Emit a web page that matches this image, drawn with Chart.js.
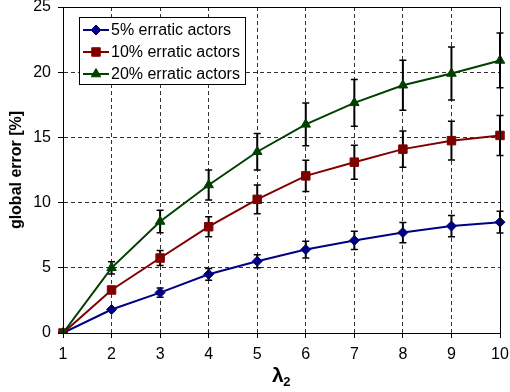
<!DOCTYPE html>
<html>
<head>
<meta charset="utf-8">
<script src="https://cdn.jsdelivr.net/npm/chart.js@4/dist/chart.umd.min.js"></script>
<style>
  html, body { margin: 0; padding: 0; background: #fff; }
  #wrap { width: 510px; height: 392px; }
</style>
</head>
<body>
<div id="wrap"><canvas id="c" width="510" height="392"></canvas></div>
<script>
// lambda_2 values on the x axis
const lambdaValues = ['1', '2', '3', '4', '5', '6', '7', '8', '9', '10'];
const yTicks = [0, 5, 10, 15, 20, 25];

// mean global error [%] per share of erratic actors
const err5 = [0, 1.8, 3.1, 4.5, 5.5, 6.4, 7.1, 7.7, 8.2, 8.5];
const err10 = [0, 3.3, 5.75, 8.15, 10.25, 12.05, 13.1, 14.1, 14.75, 15.15];
const err20 = [0, 5.0, 8.55, 11.35, 13.9, 16.0, 17.65, 19.0, 19.9, 20.9];

// standard deviations (error bar half-lengths)
const sd5 = [0, 0.1, 0.35, 0.45, 0.5, 0.64, 0.7, 0.78, 0.82, 0.83];
const sd10 = [0, 0.25, 0.57, 0.77, 1.1, 1.2, 1.3, 1.39, 1.48, 1.53];
const sd20 = [0, 0.47, 0.86, 1.15, 1.4, 1.64, 1.79, 1.92, 2.03, 2.1];

const seriesLabels = ['5% erratic actors', '10% erratic actors', '20% erratic actors'];

const FONT = '"Liberation Sans", Arial, Helvetica, sans-serif';

function drawMarker(ctx, style, r, x, y, color) {
  ctx.save();
  ctx.fillStyle = color;
  ctx.strokeStyle = color;
  ctx.lineWidth = 1;
  ctx.beginPath();
  if (style === 'rectRot') {
    ctx.moveTo(x, y - r); ctx.lineTo(x + r, y); ctx.lineTo(x, y + r); ctx.lineTo(x - r, y);
  } else if (style === 'rect') {
    const s = r * Math.SQRT1_2;
    ctx.rect(x - s, y - s, 2 * s, 2 * s);
  } else {
    const a = Math.PI * 2 / 3;
    ctx.moveTo(x, y - r);
    ctx.lineTo(x + Math.sin(a) * r, y - Math.cos(a) * r);
    ctx.lineTo(x + Math.sin(2 * a) * r, y - Math.cos(2 * a) * r);
  }
  ctx.closePath();
  ctx.fill();
  ctx.stroke();
  ctx.restore();
}

// vertical error bars with caps, drawn beneath the lines and markers
const errorBars = {
  id: 'errorBars',
  beforeDatasetsDraw(chart) {
    const ctx = chart.ctx;
    const yScale = chart.scales.y;
    ctx.save();
    ctx.strokeStyle = '#000';
    chart.data.datasets.forEach((ds, di) => {
      const meta = chart.getDatasetMeta(di);
      ds.values.forEach((v, i) => {
        const e = ds.sd[i];
        if (!e) return;
        const x = meta.data[i].x;
        const yTop = yScale.getPixelForValue(v + e);
        const yBot = yScale.getPixelForValue(v - e);
        ctx.lineWidth = 2;
        ctx.beginPath();
        ctx.moveTo(x, yTop); ctx.lineTo(x, yBot);
        ctx.stroke();
        ctx.lineWidth = 1.5;
        ctx.beginPath();
        ctx.moveTo(x - 3.5, yTop); ctx.lineTo(x + 3.5, yTop);
        ctx.moveTo(x - 3.5, yBot); ctx.lineTo(x + 3.5, yBot);
        ctx.stroke();
      });
    });
    ctx.restore();
  }
};

// frame, axis titles and the boxed legend
const decorations = {
  id: 'decorations',
  afterDraw(chart) {
    const ctx = chart.ctx;
    const a = chart.chartArea;
    ctx.save();
    ctx.strokeStyle = '#000';
    ctx.lineWidth = 1;
    ctx.strokeRect(Math.round(a.left) + 0.5, Math.round(a.top) + 0.5,
                   Math.round(a.right - a.left), Math.round(a.bottom - a.top));

    // y axis title
    ctx.save();
    ctx.translate(17, (a.top + a.bottom) / 2);
    ctx.rotate(-Math.PI / 2);
    ctx.font = 'bold 16px ' + FONT;
    ctx.fillStyle = '#000';
    ctx.textAlign = 'center';
    ctx.textBaseline = 'middle';
    ctx.fillText('global error [%]', 0, 0);
    ctx.restore();

    // x axis title: lambda with subscript 2
    ctx.fillStyle = '#000';
    ctx.textBaseline = 'alphabetic';
    ctx.textAlign = 'left';
    ctx.font = 'bold 21px ' + FONT;
    const cx = (a.left + a.right) / 2;
    const wl = ctx.measureText('λ').width;
    ctx.font = 'bold 13px ' + FONT;
    const ws = ctx.measureText('2').width;
    const x0 = cx - (wl + ws) / 2;
    ctx.font = 'bold 21px ' + FONT;
    ctx.fillText('λ', x0, 382);
    ctx.font = 'bold 13px ' + FONT;
    ctx.fillText('2', x0 + wl - 0.5, 386);

    // legend
    const lx = 79.5, ly = 17.5, lw = 166, lh = 67;
    ctx.fillStyle = '#fff';
    ctx.fillRect(lx, ly, lw, lh);
    ctx.strokeStyle = '#000';
    ctx.lineWidth = 1;
    ctx.strokeRect(lx, ly, lw, lh);
    ctx.font = '16px ' + FONT;
    ctx.textBaseline = 'middle';
    chart.data.datasets.forEach((ds, i) => {
      const y = 30 + i * 22;
      ctx.strokeStyle = ds.borderColor;
      ctx.lineWidth = 2;
      ctx.beginPath();
      ctx.moveTo(83, y); ctx.lineTo(109, y);
      ctx.stroke();
      drawMarker(ctx, ds.pointStyle, ds.pointRadius, 96, y, ds.pointBackgroundColor);
      ctx.fillStyle = '#000';
      ctx.fillText(ds.label, 111, y + 1);
    });
    ctx.restore();
  }
};

function series(label, values, sd, color, style, radius, order) {
  return {
    label, values, sd,
    data: values,
    borderColor: color,
    backgroundColor: color,
    pointBackgroundColor: color,
    pointBorderColor: color,
    pointStyle: style,
    pointRadius: radius,
    pointBorderWidth: 1,
    borderWidth: 2,
    tension: 0,
    order
  };
}

new Chart(document.getElementById('c'), {
  type: 'line',
  data: {
    labels: lambdaValues,
    datasets: [
      series(seriesLabels[0], err5, sd5, '#000080', 'rectRot', 5, 2),
      series(seriesLabels[1], err10, sd10, '#800000', 'rect', 6, 1),
      series(seriesLabels[2], err20, sd20, '#004000', 'triangle', 5.5, 0)
    ]
  },
  options: {
    responsive: false,
    animation: false,
    devicePixelRatio: 1,
    layout: { padding: { left: 0, top: 7, right: 10, bottom: 0 } },
    plugins: { legend: { display: false }, tooltip: { enabled: false }, title: { display: false } },
    scales: {
      x: {
        type: 'category',
        offset: false,
        grid: { color: '#333', lineWidth: 1, drawTicks: true, tickLength: 5, tickColor: '#000', tickBorderDash: [] },
        border: { display: true, color: '#000', width: 1, dash: [4, 3] },
        ticks: { color: '#000', font: { family: FONT, size: 16 }, padding: 7, maxRotation: 0, autoSkip: false },
        afterFit(s) { s.height = 59; s.paddingLeft = 0; s.paddingRight = 0; }
      },
      y: {
        min: 0, max: 25,
        afterBuildTicks(s) { s.ticks = yTicks.map(v => ({ value: v })); },
        grid: { color: '#333', lineWidth: 1, drawTicks: true, tickLength: 5, tickColor: '#000', tickBorderDash: [] },
        border: { display: true, color: '#000', width: 1, dash: [4, 3] },
        ticks: { color: '#000', font: { family: FONT, size: 16 }, padding: 7 },
        afterFit(s) { s.width = 63; s.paddingTop = 0; s.paddingBottom = 0; }
      }
    }
  },
  plugins: [errorBars, decorations]
});
</script>
</body>
</html>
